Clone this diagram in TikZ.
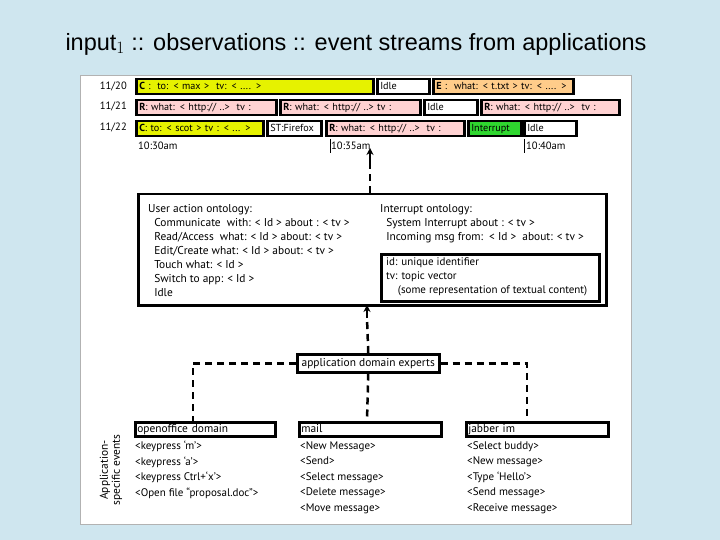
\documentclass[tikz,border=0pt]{standalone}
\usepackage{fontspec}
\setmainfont{PT Sans}
\newfontfamily\titlefont{Liberation Sans}
\usetikzlibrary{arrows.meta}
\definecolor{bg}{HTML}{CFE6EF}
\definecolor{yel}{HTML}{E6F200}
\definecolor{org}{HTML}{FFCC8A}
\definecolor{pnk}{HTML}{FFD2D2}
\definecolor{grn}{HTML}{2FD62F}
\begin{document}
\begin{tikzpicture}[x=1pt,y=-1pt,
  ev/.style={draw=black,line width=2.5pt,inner sep=0pt,anchor=north west,font=\fontsize{10.2}{11}\selectfont,text height=8pt,text depth=2pt,align=left,inner xsep=3pt},
  tl/.style={anchor=west,font=\fontsize{10.6}{11}\selectfont,inner sep=0pt},
  txt/.style={anchor=north west,font=\fontsize{11.4}{14}\selectfont,align=left,inner sep=0pt},
  dl/.style={line width=2.5pt,dash pattern=on 7pt off 5pt},
  hb/.style={draw=black,line width=2.5pt,anchor=north west,inner sep=0pt,inner xsep=2pt,font=\fontsize{11.4}{12}\selectfont,text height=8.5pt,text depth=2.5pt}]
\useasboundingbox (0,0) rectangle (720,540);
\fill[bg] (0,0) rectangle (720,540);
\fill[white] (80,75) rectangle (631,524);
\draw[gray!60] (80,75) rectangle (631,524);
\node[font=\titlefont\fontsize{23.5}{26}\selectfont] (title) at (356,44) {input$_1$ :: observations :: event streams from applications};
% dates
\node[tl,anchor=east] (d1) at (127,86) {11/20};
\node[tl,anchor=east] (d2) at (127,106) {11/21};
\node[tl,anchor=east] (d3) at (127,127) {11/22};
\newcommand{\evbox}[6]{\node[ev,fill=#1,minimum width=#4-#3,minimum height=15pt,text width=#4-#3-6] (#6) at (#3,#2) {#5};}
% row 1
\evbox{yel}{78}{135}{372}{\textbf{C} :\ \ to: < max >\ \ tv: < .... >}{a1}
\evbox{white}{78}{376}{428}{Idle}{a2}
\evbox{org}{78}{432}{572}{\textbf{E} :\ \ what: < t.txt > tv: < .... >}{a3}
% row 2
\evbox{pnk}{99}{135}{275}{\textbf{R}: what: < http:// ..>\ \ tv :}{b1}
\evbox{pnk}{99}{279}{419}{\textbf{R}: what: < http:// ..>\ tv :}{b2}
\evbox{white}{99}{423}{476}{Idle}{b3}
\evbox{pnk}{99}{480}{618}{\textbf{R}: what: < http:// ..>\ \ tv :}{b4}
% row 3
\evbox{yel}{120}{135}{262}{\textbf{C}: to: < scot\ > tv : < ... >}{c1}
\evbox{white}{120}{266}{320}{ST:Firefox}{c2}
\evbox{pnk}{120}{325}{463}{\textbf{R}: what: < http:// ..>\ \ tv :}{c3}
\evbox{grn}{120}{467}{520}{Interrupt}{c4}
\evbox{white}{120}{523}{575}{Idle}{c5}
% times
\node[tl] (t1) at (138,146) {10:30am};
\node[tl] (t2) at (331,146) {10:35am};
\node[tl] (t3) at (526,146) {10:40am};
\draw[line width=0.8pt] (330,139) -- (330,153);
\draw[line width=0.8pt] (524,139) -- (524,153);
% ontology box
\node[draw=black,line width=2.5pt,minimum width=468pt,minimum height=111pt,anchor=north west,inner sep=0pt] (ont) at (137,193) {};
\node[txt] (ua) at (148,204) {User action ontology:\\
\ \ Communicate\ \ with: < Id > about : < tv >\\
\ \ Read/Access\ \ what: < Id > about: < tv >\\
\ \ Edit/Create what: < Id > about: < tv >\\
\ \ Touch what: < Id >\\
\ \ Switch to app: < Id >\\
\ \ Idle};
\node[txt] (io) at (380,204) {Interrupt ontology:\\
\ \ System Interrupt about : < tv >\\
\ \ Incoming msg from:\ \ < Id >\ \ about: < tv >};
\node[draw=black,line width=2.5pt,anchor=north west,minimum width=218pt,minimum height=47pt,inner sep=0pt] (def) at (380,253) {};
\node[txt,font=\fontsize{11}{14}\selectfont] (deft) at (386,258) {id: unique identifier\\tv: topic vector\\\ \ \ \ (some representation of textual content)};
% arrows
\coordinate (top) at (370,148);
\coordinate (topb) at (370,193);
\draw[dl] (topb) -- (370,160);
\draw[-{Stealth[length=7pt,width=7pt]},line width=1.5pt] (370,162) -- (top);
% experts
\node[hb,minimum width=142pt,minimum height=18pt] (exp) at (296,353) {application domain experts};
\draw[dl] (exp.north) -- (367,318);
\draw[-{Stealth[length=7pt,width=7pt]},line width=1.5pt] (367,318) -- (367,305);
\node[hb,minimum width=140pt,minimum height=14pt,text width=136pt] (oo) at (134,421) {openoffice domain};
\node[hb,minimum width=142pt,minimum height=14pt,text width=138pt] (ml) at (298,421) {mail};
\node[hb,minimum width=142pt,minimum height=14pt,text width=138pt] (jb) at (465,421) {jabber im};
\draw[dl] (exp.west) -| (oo.north -| 193,0);
\draw[dl] (exp.east) -| (jb.north -| 527,0);
\draw[dl] (exp.south) -- (ml.north -| 367,0);
\node[txt,font=\fontsize{11}{15.5}\selectfont] (l1) at (135,441) {<keypress `m'>\\<keypress `a'>\\<keypress Ctrl+`x'>\\<Open file ``proposal.doc''>};
\node[txt,font=\fontsize{11}{15.5}\selectfont] (l2) at (300,441) {<New Message>\\<Send>\\<Select message>\\<Delete message>\\<Move message>};
\node[txt,font=\fontsize{11}{15.5}\selectfont] (l3) at (467,441) {<Select buddy>\\<New message>\\<Type `Hello'>\\<Send message>\\<Receive message>};
\node[rotate=90,font=\fontsize{11.4}{12}\selectfont,align=center] (lab) at (111,470) {Application-\\specific events};
\end{tikzpicture}
\end{document}
